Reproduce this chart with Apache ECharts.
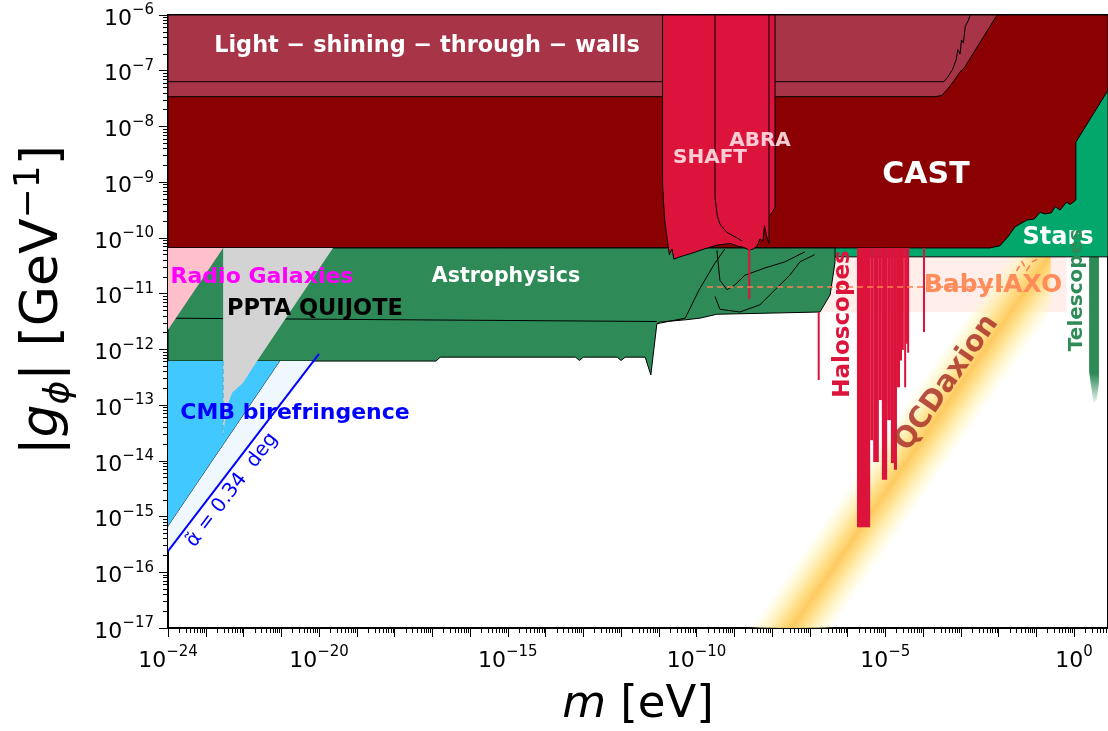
<!DOCTYPE html>
<html>
<head>
<meta charset="utf-8">
<script src="https://cdn.jsdelivr.net/npm/echarts@6/dist/echarts.min.js"></script>
<style>
  html, body { margin: 0; background: #fff; }
  #main { width: 1108px; height: 731px; }
</style>
</head>
<body>
<div id="main"></div>
<script>
// every point is [log10(m / eV), log10(|g| / GeV^-1)]
const xLabelTicks = [-24, -20, -15, -10, -5, 0];
const yLabelTicks = [-17, -16, -15, -14, -13, -12, -11, -10, -9, -8, -7, -6];

const lswOuter = [[-24, -6], [-2.04, -6], [-2.89, -6.93], [-3.05, -7.05], [-3.2, -7.2],
  [-3.35, -7.33], [-3.5, -7.44], [-3.66, -7.466], [-24, -7.466]];
const lswInner = [[-24, -7.197], [-3.45, -7.197], [-3.35, -7.12], [-3.22, -6.98], [-3.12, -6.8],
  [-3.08, -6.62], [-3.02, -6.7], [-2.98, -6.45], [-2.93, -6.5], [-2.88, -6.2], [-2.8, -6.1], [-2.75, -6]];
const cast = [[-24, -6], [0.9, -6], [0.9, -7.35], [0.05, -8.28], [0.05, -9.32], [-0.1, -9.4],
  [-0.2, -9.36], [-0.37, -9.5], [-0.5, -9.44], [-0.6, -9.55], [-0.77, -9.57], [-0.9, -9.54],
  [-1.05, -9.66], [-1.25, -9.68], [-1.56, -9.8], [-1.75, -9.98], [-1.96, -10.14], [-2.23, -10.18],
  [-24, -10.18]];
const stars = [[-24, -6], [0.9, -6], [0.9, -10.34], [-24, -10.34]];
const astro = [[-24, -10.18], [-6.33, -10.18], [-6.33, -10.43], [-6.46, -11.02], [-6.73, -11.33],
  [-9.46, -11.37], [-9.91, -11.44], [-10.3, -11.47], [-10.97, -11.51], [-11.05, -11.54],
  [-11.21, -12.46], [-11.36, -12.14], [-11.89, -12.14], [-12.0, -12.2], [-12.1, -12.14],
  [-13.0, -12.14], [-13.1, -12.2], [-13.2, -12.14], [-16.79, -12.14], [-16.9, -12.21], [-24, -12.21]];
const astroLine = [[-24, -11.44], [-11.05, -11.5]];
const astroCurveA = [[-11.05, -11.54], [-10.3, -11.44], [-9.93, -10.93], [-9.51, -10.45], [-9.25, -10.2]];
const astroCurveB = [[-9.46, -10.22], [-9.38, -10.76], [-9.19, -10.93], [-8.98, -10.84], [-8.72, -10.67],
  [-8.19, -10.54], [-7.66, -10.43], [-7.13, -10.25]];
const astroCurveC = [[-9.51, -11.05], [-9.38, -11.28], [-8.85, -11.33], [-8.32, -11.2], [-7.92, -10.93],
  [-7.53, -10.67], [-7.26, -10.43], [-6.87, -10.3]];
const radioGal = [[-24, -10.18], [-22.54, -10.18], [-24, -11.65]];
const ppta = [[-22.54, -10.18], [-19.63, -10.18], [-21.64, -12.21], [-22.01, -12.6], [-22.3, -12.78],
  [-22.44, -13.03], [-22.54, -13.54]];
const pptaDash = [[-22.54, -12.21], [-22.54, -13.54]];
const cmb = [[-24, -12.21], [-21.03, -12.21], [-24, -15.18]];
const cmbEdge = [[-21.03, -12.21], [-24, -15.18]];
const cmbProj = [[-21.03, -12.21], [-20.15, -12.21], [-24, -15.62], [-24, -15.18]];
const alphaLine = [[-24, -15.62], [-20, -12.08]];
const shaftAbra = [[-10.9, -6], [-7.92, -6], [-7.92, -9.45], [-8.0, -9.55], [-8.08, -9.6],
  [-8.08, -10.1], [-8.15, -9.95], [-8.2, -9.78], [-8.24, -10.05], [-8.32, -10.02], [-8.4, -10.15],
  [-8.5, -10.2], [-8.6, -10.22], [-8.75, -10.17], [-8.9, -10.15], [-9.1, -10.1], [-9.46, -10.13],
  [-9.8, -10.2], [-10.1, -10.27], [-10.44, -10.34], [-10.6, -10.38], [-10.65, -10.2], [-10.72, -10.3],
  [-10.78, -10.0], [-10.84, -9.7], [-10.88, -9.3], [-10.9, -9.01]];
const shaftDivider = [[-9.51, -6], [-9.51, -9.28], [-9.45, -9.6], [-9.38, -9.75], [-9.2, -9.9],
  [-8.98, -9.98], [-8.8, -10.05]];
const abraEdge = [[-8.08, -6], [-8.08, -9.6]];
// haloscope exclusions: [m from, m to, g top, g bottom]
const haloscopes = [
  [-5.75, -5.40, -10.18, -15.19], [-5.40, -5.32, -10.18, -13.63], [-5.32, -5.17, -10.18, -14.02],
  [-5.17, -5.09, -10.18, -12.91], [-5.09, -4.95, -10.18, -14.34], [-4.95, -4.85, -10.18, -13.27],
  [-4.85, -4.77, -10.18, -14.04], [-4.77, -4.69, -10.18, -14.16], [-4.69, -4.61, -10.18, -12.68],
  [-4.61, -4.56, -10.18, -12.2], [-4.56, -4.53, -10.18, -12.01], [-4.50, -4.45, -10.18, -12.68],
  [-4.45, -4.42, -10.18, -11.9], [-4.42, -4.37, -10.18, -12.06], [-4.00, -3.96, -10.18, -11.69],
  [-8.63, -8.58, -10.18, -11.10], [-6.79, -6.75, -11.33, -12.55]
];
const babyIaxoArea = [[-9.72, -10.34], [-0.2, -10.34], [-0.2, -11.33], [-9.72, -11.33]];
const babyIaxo = [[-9.72, -10.88], [-1.7, -10.88], [-1.51, -10.58], [-1.38, -10.43], [-1.25, -10.58],
  [-1.11, -10.43], [-0.9, -10.36]];
const telescopes = [[0.4, -10.34], [0.66, -10.34], [0.66, -12.6], [0.6, -12.9], [0.52, -12.96],
  [0.46, -12.7], [0.4, -12.4]];
const qcdCenter = [[-10.05, -19.5], [-0.62, -10.3]];
const qcdHalf = 1.1;

const xMin = -24, xMax = 0.9, yMin = -17, yMax = -6;

function range(a, b) { const r = []; for (let i = a; i <= b; i++) r.push(i); return r; }
function minors(a, b) {
  const r = [];
  for (let d = a; d < b; d++) for (let k = 2; k <= 9; k++) r.push(d + Math.log10(k));
  return r;
}

function area(pts, fill, stroke, lw) {
  return {
    type: 'custom', data: pts, silent: true, clip: true,
    renderItem: function (params, api) {
      if (params.dataIndex !== 0) return;
      return {
        type: 'polygon',
        shape: { points: pts.map(p => api.coord(p)) },
        style: { fill: fill, stroke: stroke || null, lineWidth: lw || 0 }
      };
    }
  };
}
function line(pts, color, lw, dash) {
  return {
    type: 'custom', data: pts, silent: true, clip: true,
    renderItem: function (params, api) {
      if (params.dataIndex !== 0) return;
      return {
        type: 'polyline',
        shape: { points: pts.map(p => api.coord(p)) },
        style: { fill: null, stroke: color, lineWidth: lw, lineDash: dash || null }
      };
    }
  };
}

const qcdSeries = {
  type: 'custom', data: qcdCenter, silent: true, clip: true,
  renderItem: function (params, api) {
    if (params.dataIndex !== 0) return;
    const a = qcdCenter[0], b = qcdCenter[1];
    const pts = [[a[0], a[1] + qcdHalf], [b[0], b[1] + qcdHalf], [b[0], b[1] - qcdHalf], [a[0], a[1] - qcdHalf]]
      .map(p => api.coord(p));
    const pa = api.coord(a), pb = api.coord(b);
    const dx = pb[0] - pa[0], dy = pb[1] - pa[1], len = Math.hypot(dx, dy);
    const nx = -dy / len, ny = dx / len;
    const v = api.coord([a[0], a[1] - qcdHalf])[1] - pa[1];
    const w = Math.abs(v * dx / len);
    const grad = new echarts.graphic.LinearGradient(pa[0] - nx * w, pa[1] - ny * w, pa[0] + nx * w, pa[1] + ny * w, [
      { offset: 0, color: 'rgba(255,252,215,0)' },
      { offset: 0.15, color: 'rgba(255,245,190,0.6)' },
      { offset: 0.35, color: 'rgba(255,222,130,0.9)' },
      { offset: 0.5, color: 'rgba(254,202,96,1)' },
      { offset: 0.65, color: 'rgba(255,222,130,0.9)' },
      { offset: 0.85, color: 'rgba(255,245,190,0.6)' },
      { offset: 1, color: 'rgba(255,252,215,0)' }
    ], true);
    return { type: 'polygon', shape: { points: pts }, style: { fill: grad } };
  }
};

const haloSeries = {
  type: 'custom', data: haloscopes, silent: true, clip: true,
  renderItem: function (params, api) {
    const p0 = api.coord([api.value(0), api.value(2)]);
    const p1 = api.coord([api.value(1), api.value(3)]);
    return {
      type: 'rect',
      shape: { x: p0[0], y: p0[1], width: Math.max(p1[0] - p0[0], 2), height: p1[1] - p0[1] },
      style: { fill: '#DC143C' }
    };
  }
};

const telescopeSeries = {
  type: 'custom', data: telescopes, silent: true, clip: true,
  renderItem: function (params, api) {
    if (params.dataIndex !== 0) return;
    return {
      type: 'polygon',
      shape: { points: telescopes.map(p => api.coord(p)) },
      style: {
        fill: new echarts.graphic.LinearGradient(0, 0, 0, 1, [
          { offset: 0, color: '#2E8B57' }, { offset: 0.8, color: '#2E8B57' },
          { offset: 1, color: 'rgba(46,139,87,0.1)' }
        ])
      }
    };
  }
};

const series = [
  area(babyIaxoArea, '#FFEEEA'),
  qcdSeries,
  telescopeSeries,
  area(stars, '#02A86B', '#000', 1),
  area(cast, '#8B0000', '#000', 1),
  area(lswOuter, '#A83448', '#000', 1),
  line(lswInner, '#000', 1),
  area(astro, '#2E8B57', '#000', 1),
  line(astroLine, '#000', 1),
  line(astroCurveA, '#000', 1),
  line(astroCurveB, '#000', 1),
  line(astroCurveC, '#000', 1),
  area(radioGal, '#FFC0CB'),
  area(cmb, '#40C8FF'),
  line(cmbEdge, '#000', 1),
  area(cmbProj, '#F0F8FF'),
  area(ppta, '#D3D3D3'),
  line(pptaDash, '#4FB3D9', 1.2, [5, 3]),
  line(alphaLine, '#0000FF', 2),
  area(shaftAbra, '#DC143C', '#000', 1),
  line(shaftDivider, '#000', 1),
  line(abraEdge, '#000', 1),
  haloSeries,
  line(babyIaxo, '#FF7F50', 1.6, [6, 4])
];

const tickFont = 'DejaVu Sans';
function pow10(v) { return '{b|10}{s|' + (v < 0 ? '−' + (-v) : v) + '}'; }
const tickRich = {
  b: { fontSize: 22, fontFamily: tickFont, color: '#000', verticalAlign: 'bottom', lineHeight: 30 },
  s: { fontSize: 15, fontFamily: tickFont, color: '#000', verticalAlign: 'bottom', lineHeight: 30, padding: [0, 0, 12, 0] }
};

function xAxisDef(major) {
  return {
    type: 'value', min: xMin, max: xMax, position: 'bottom', offset: 0,
    splitLine: { show: false },
    axisLine: { show: major, onZero: false, lineStyle: { color: '#000', width: 2 } },
    axisTick: { show: true, length: major ? 9 : 5, lineStyle: { color: '#000', width: 1 },
      customValues: major ? range(-24, 0) : minors(-24, 1) },
    axisLabel: major ? { show: true, customValues: xLabelTicks, margin: 14, formatter: pow10, rich: tickRich }
      : { show: false }
  };
}
function yAxisDef(major) {
  return {
    type: 'value', min: yMin, max: yMax, position: 'left', offset: 0,
    splitLine: { show: false },
    axisLine: { show: major, onZero: false, lineStyle: { color: '#000', width: 2 } },
    axisTick: { show: true, length: major ? 9 : 5, lineStyle: { color: '#000', width: 1 },
      customValues: major ? range(-17, -6) : minors(-17, -6) },
    axisLabel: major ? { show: true, customValues: yLabelTicks, margin: 14, formatter: pow10, rich: tickRich }
      : { show: false }
  };
}

function label(text, x, y, color, size, rot, extra) {
  return Object.assign({
    type: 'text', x: x, y: y, rotation: rot || 0, z: 100, silent: true,
    style: { text: text, fill: color, font: 'bold ' + size + 'px "DejaVu Sans"', align: 'center', verticalAlign: 'middle' }
  }, extra || {});
}

const chart = echarts.init(document.getElementById('main'));
chart.setOption({
  animation: false,
  backgroundColor: '#fff',
  grid: { left: 168, right: 0, top: 15, bottom: 103, show: true, borderColor: '#000', borderWidth: 2, backgroundColor: 'transparent' },
  xAxis: [xAxisDef(true), xAxisDef(false)],
  yAxis: [yAxisDef(true), yAxisDef(false)],
  series: series,
  graphic: [
    label('Light − shining − through − walls', 427, 46, '#fff', 22.4),
    label('SHAFT', 710, 158, 'rgba(255,225,230,0.9)', 20),
    label('ABRA', 760, 141, 'rgba(255,225,230,0.9)', 20),
    label('CAST', 926, 175, '#fff', 30),
    label('Stars', 1058, 238, '#fff', 24),
    label('Radio Galaxies', 262, 277, '#FF00FF', 22),
    label('Astrophysics', 506, 277, '#fff', 20.5),
    label('PPTA QUIJOTE', 315, 309, '#000', 22.5),
    label('CMB birefringence', 295, 413, '#0000FF', 22),
    label('BabyIAXO', 993, 285, '#FF8C5A', 25),
    label('Haloscopes', 843, 324, '#DC143C', 23, Math.PI / 2),
    label('Telescopes', 1077, 290, '#2E8B57', 20, Math.PI / 2),
    label('QCDaxion', 947, 383, 'rgba(170,50,40,0.85)', 29, 0.96),
    {
      type: 'text', x: 232, y: 490, rotation: 0.92, z: 100, silent: true,
      style: { text: 'α̃ = 0.34  deg', fill: '#0000FF', font: '20px "DejaVu Sans"', align: 'center', verticalAlign: 'middle' }
    },
    {
      type: 'text', x: 45, y: 300, rotation: Math.PI / 2, z: 100, silent: true,
      style: {
        text: '{n||}{i|g}{sub|ϕ}{n|| [GeV}{sup|−1}{n|]}', align: 'center', verticalAlign: 'middle',
        rich: {
          n: { fontSize: 52, fontFamily: 'DejaVu Sans', fill: '#000', verticalAlign: 'bottom', lineHeight: 66, padding: [0, 0, 9, 0] },
          i: { fontSize: 52, fontFamily: 'DejaVu Sans', fontStyle: 'italic', fill: '#000', verticalAlign: 'bottom', lineHeight: 66, padding: [0, 0, 9, 0] },
          sub: { fontSize: 36, fontFamily: 'DejaVu Sans', fontStyle: 'italic', fill: '#000', verticalAlign: 'bottom', lineHeight: 66, padding: [0, 0, 0, 0] },
          sup: { fontSize: 36, fontFamily: 'DejaVu Sans', fill: '#000', verticalAlign: 'bottom', lineHeight: 66, padding: [0, 0, 30, 0] }
        }
      }
    },
    {
      type: 'text', x: 638, y: 705, z: 100, silent: true,
      style: {
        text: '{i|m}{n| [eV]}', align: 'center', verticalAlign: 'middle',
        rich: {
          n: { fontSize: 45, fontFamily: 'DejaVu Sans', fill: '#000' },
          i: { fontSize: 45, fontFamily: 'DejaVu Sans', fontStyle: 'italic', fill: '#000' }
        }
      }
    }
  ]
});
</script>
</body>
</html>
